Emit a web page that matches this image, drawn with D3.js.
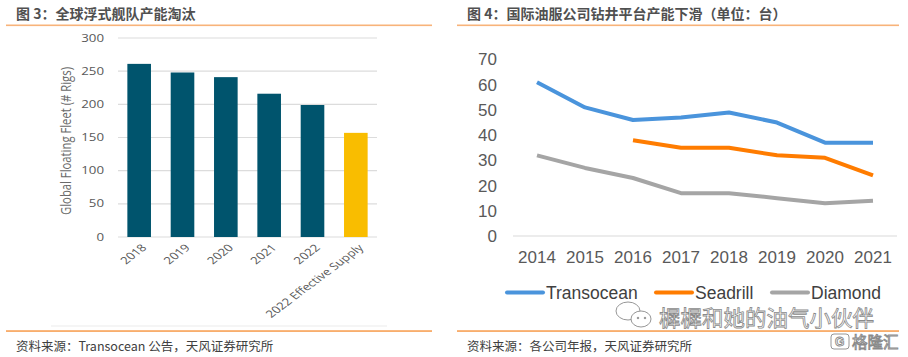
<!DOCTYPE html>
<html><head><meta charset="utf-8">
<script src="https://cdn.jsdelivr.net/npm/d3@7/dist/d3.min.js"></script>
<style>body{margin:0;background:#fff}svg{display:block}</style>
</head><body>
<svg id="c" width="908" height="357"></svg>
<script>
// ---- data ----
const barCategories = ["2018","2019","2020","2021","2022","2022 Effective Supply"];
const barValues = [261,248,241,216,199,157];
const barTicks = [0,50,100,150,200,250,300];
const years = ["2014","2015","2016","2017","2018","2019","2020","2021"];
const transocean = [61,51,46,47,49,45,37,37];
const seadrill = [null,null,38,35,35,32,31,24];
const diamond = [32,27,23,17,17,15,13,14];
const lineTicks = [0,10,20,30,40,50,60,70];
const seriesNames = ["Transocean","Seadrill","Diamond"];

const svg = d3.select("#c");
const CJK = "'Noto Sans CJK SC','Noto Sans',sans-serif";
const ARIAL = "'Liberation Sans',Arial,sans-serif";
const OPEN = "'Open Sans','Noto Sans',sans-serif";

// ---- headers / footers ----
[[16,6,432,"图 3：全球浮式舰队产能淘汰","资料来源：Transocean 公告，天风证券研究所"],
 [467,457,899,"图 4：国际油服公司钻井平台产能下滑（单位：台）","资料来源：各公司年报，天风证券研究所"]].forEach(([tx,x0,x1,title,src])=>{
  svg.append("text").attr("x",tx).attr("y",19).attr("font-family",CJK).attr("font-weight","bold")
    .attr("font-size",14).attr("fill","#505050").text(title);
  svg.append("rect").attr("x",x0).attr("y",24.5).attr("width",x1-x0).attr("height",1.6).attr("fill","#f8b37a");
  svg.append("rect").attr("x",x0).attr("y",330.3).attr("width",x1-x0).attr("height",1.5).attr("fill","#f79b4a");
  svg.append("text").attr("x",tx).attr("y",351).attr("font-family",CJK)
    .attr("font-size",12.5).attr("fill","#404040").text(src);
});
svg.append("rect").attr("x",51).attr("y",325.5).attr("width",336).attr("height",1).attr("fill","#ececec");

// ---- left bar chart ----
const SX = 1.33;
const xb = d3.scaleBand().domain(barCategories).range([118,377]).paddingInner(0.455).paddingOuter(0.216);
const yb = d3.scaleLinear().domain([0,300]).range([237,38]);
const barColor = c => c === "2022 Effective Supply" ? "#f9bd00" : "#00546d";

const gl = svg.append("g");
gl.selectAll("line.g").data(barTicks).join("line")
  .attr("x1",118).attr("x2",377).attr("y1",d=>yb(d)).attr("y2",d=>yb(d))
  .attr("stroke","#dcdcdc").attr("stroke-width",1.2);
gl.selectAll("text.yt").data(barTicks).join("text")
  .attr("transform",d=>`translate(104,${yb(d)}) scale(${SX},1)`)
  .attr("text-anchor","end").attr("dy","0.35em")
  .attr("font-family",OPEN).attr("font-size",10).attr("fill","#595959").text(d=>d);
gl.selectAll("rect.b").data(barCategories).join("rect")
  .attr("x",d=>xb(d)).attr("width",xb.bandwidth())
  .attr("y",(d,i)=>yb(barValues[i])).attr("height",(d,i)=>yb(0)-yb(barValues[i]))
  .attr("fill",d=>barColor(d));
gl.selectAll("text.xt").data(barCategories).join("text")
  .attr("transform",d=>`translate(${xb(d)+xb.bandwidth()/2+5},246) scale(${SX},1) rotate(-45)`)
  .attr("text-anchor","end").attr("dy","0.35em")
  .attr("font-family",OPEN).attr("font-size",10).attr("fill","#595959").text(d=>d);
gl.append("text").attr("transform",`translate(66,141) scale(${SX},1) rotate(-90)`)
  .attr("text-anchor","middle").attr("dy","0.35em")
  .attr("font-family",OPEN).attr("font-size",11.3).attr("fill","#6a6a6a")
  .text("Global Floating Fleet (# Rigs)");

// ---- right line chart ----
const xl = d3.scalePoint().domain(years).range([537,873]);
const yl = d3.scaleLinear().domain([0,70]).range([236,59.5]);
const gr = svg.append("g");
gr.append("line").attr("x1",513).attr("x2",897).attr("y1",yl(0)).attr("y2",yl(0))
  .attr("stroke","#d9d9d9").attr("stroke-width",1.2);
gr.selectAll("text.yt").data(lineTicks).join("text")
  .attr("x",497).attr("y",d=>yl(d)).attr("dy","0.35em").attr("text-anchor","end")
  .attr("font-family",ARIAL).attr("font-size",17).attr("fill","#595959").text(d=>d);
gr.selectAll("text.xt").data(years).join("text")
  .attr("x",d=>xl(d)).attr("y",263).attr("text-anchor","middle")
  .attr("font-family",ARIAL).attr("font-size",17).attr("fill","#595959").text(d=>d);

const series = [transocean, seadrill, diamond];
const colors = ["#4a94dc","#ff7c00","#a5a5a5"];
const line = d3.line().defined(d=>d!=null).x((d,i)=>xl(years[i])).y(d=>yl(d));
series.forEach((s,k)=>{
  gr.append("path").datum(s).attr("d",line).attr("fill","none")
    .attr("stroke",colors[k]).attr("stroke-width",4).attr("stroke-linejoin","round");
});
const legX = [507,656,772];
seriesNames.forEach((n,k)=>{
  gr.append("line").attr("x1",legX[k]).attr("x2",legX[k]+36).attr("y1",292.5).attr("y2",292.5)
    .attr("stroke",colors[k]).attr("stroke-width",4).attr("stroke-linecap","round");
  gr.append("text").attr("x",legX[k]+39).attr("y",292.5).attr("dy","0.35em")
    .attr("font-family",ARIAL).attr("font-size",17.5).attr("fill","#404040").text(n);
});

// ---- watermarks ----
const wm = svg.append("g").attr("fill","#fff").attr("stroke","#8a8a8a").attr("stroke-width",0.9);
wm.append("ellipse").attr("cx",628).attr("cy",311).attr("rx",12).attr("ry",9);
wm.append("ellipse").attr("cx",641).attr("cy",319).attr("rx",10).attr("ry",8);
wm.append("circle").attr("cx",638).attr("cy",318).attr("r",0.8).attr("fill","#8a8a8a");
wm.append("circle").attr("cx",645).attr("cy",318).attr("r",0.8).attr("fill","#8a8a8a");
wm.append("text").attr("x",659).attr("y",326).attr("font-family",CJK).attr("font-size",21.5)
  .attr("stroke-width",0.8).attr("fill","#fff").text("樨樨和她的油气小伙伴");
wm.append("rect").attr("x",831).attr("y",334).attr("width",18).attr("height",15).attr("rx",3);
wm.append("text").attr("x",835).attr("y",346).attr("font-family",ARIAL).attr("font-size",12).attr("font-weight","bold").text("G");
wm.append("text").attr("x",852).attr("y",348).attr("font-family",CJK).attr("font-size",15.5).text("格隆汇");
</script>
</body></html>
